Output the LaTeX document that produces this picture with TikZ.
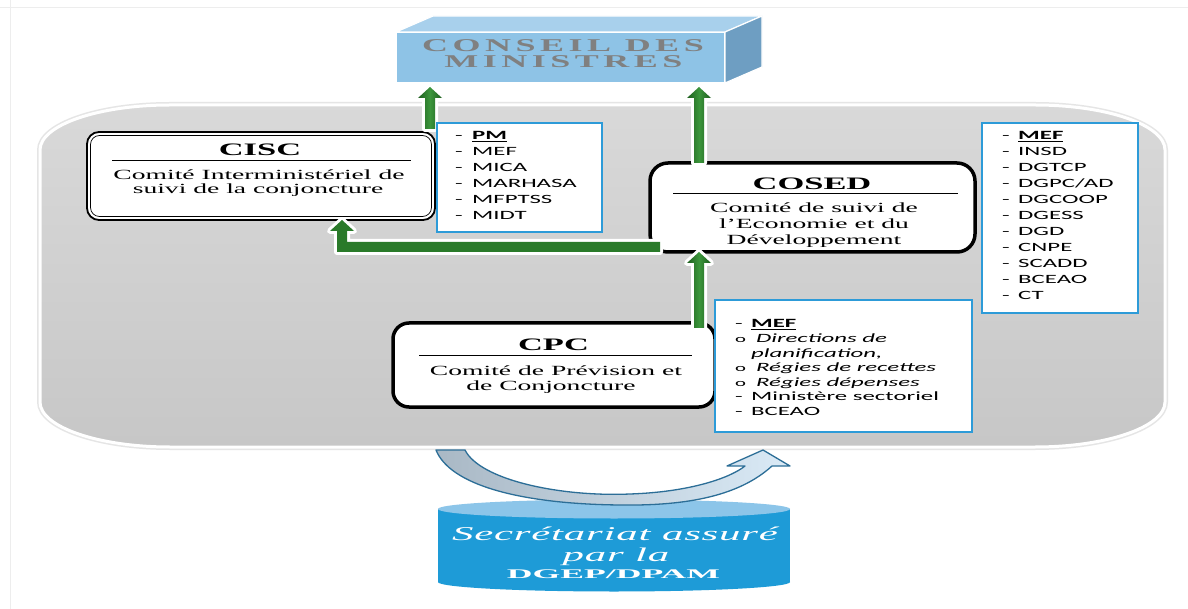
\documentclass[tikz,border=0pt]{standalone}
\usepackage{fontspec}
\usetikzlibrary{calc}
\newfontfamily\tnrfont[FakeStretch=1.97]{Liberation Serif}
\newfontfamily\lstfont[FakeStretch=1.97]{Carlito}
\newfontfamily\consfont[FakeStretch=2.0,LetterSpace=25]{Liberation Serif}
\newfontfamily\secfont[FakeStretch=2.2,LetterSpace=4]{Liberation Serif}
\newfontfamily\dgepfont[FakeStretch=2.7]{Liberation Serif}
\definecolor{gdark}{HTML}{1D5E1D}
\definecolor{glight}{HTML}{3C963C}
\definecolor{gmid}{HTML}{2A7A2A}
\definecolor{lblue}{HTML}{2D9BD8}
\definecolor{cfrontc}{HTML}{8EC3E6}
\definecolor{ctopc}{HTML}{A8D0EC}
\definecolor{csidec}{HTML}{6E9EC2}
\definecolor{cylbody}{HTML}{1E9BD7}
\definecolor{cyltop}{HTML}{8CC5E9}
\definecolor{carrowline}{HTML}{2C6E97}
\definecolor{carrowgrey}{HTML}{A9B8C5}
\definecolor{carrowblue}{HTML}{DAEAF6}
\definecolor{constext}{HTML}{808080}
\tikzset{
  garrow/.style={preaction={draw=white,line width=6pt,line join=round},left color=gdark,right color=gdark,middle color=glight},
  gearrow/.style={preaction={draw=white,line width=6pt,line join=round},fill=gmid},
  mainbox/.style={draw=black,fill=white,inner sep=0pt,outer sep=0pt},
  listbox/.style={draw=lblue,fill=white,line width=2pt,inner sep=0pt,outer sep=0pt},
  ttl/.style={anchor=base,font=\tnrfont\bfseries\fontsize{17.5}{20}\selectfont},
  tx/.style={anchor=base,font=\tnrfont\fontsize{14}{16}\selectfont},
  lst/.style={anchor=base west,inner sep=0pt,font=\lstfont\fontsize{12.6}{16}\selectfont},
  lstb/.style={anchor=base west,inner sep=0pt,font=\lstfont\fontsize{12.6}{14.6}\selectfont},
}
\newcommand\vgarrow[2]{%
  \path[garrow] let \p1=(#1), \p2=(#2) in
  (\x1-5pt,\y1) -- (\x1-5pt,\y2-11pt) -- (\x1-12pt,\y2-11pt) -- (\x1,\y2) --
  (\x1+12pt,\y2-11pt) -- (\x1+5pt,\y2-11pt) -- (\x1+5pt,\y1) -- cycle;}
\newcommand\smallo{{\fontsize{10.5}{10}\selectfont o}}
\begin{document}
\begin{tikzpicture}[x=1pt,y=-1pt]
\fill[white] (0,0) rectangle (1188,609);
\useasboundingbox (0,0) rectangle (1188,609);
\draw[black!7] (10,0) -- (10,609);
\draw[black!7] (0,7) -- (1188,7);
% grey panel
\draw[black!10,line width=6pt] (170,105) -- (1035,105) .. controls (1106.8,105) and (1165,125.1) .. (1165,150) -- (1165,402) .. controls (1165,426.9) and (1106.8,447) .. (1035,447) -- (170,447) .. controls (98.2,447) and (40,426.9) .. (40,402) -- (40,150) .. controls (40,125.1) and (98.2,105) .. (170,105) -- cycle;
\path[top color=black!15,bottom color=black!22,draw=white,line width=3pt] (170,105) -- (1035,105) .. controls (1106.8,105) and (1165,125.1) .. (1165,150) -- (1165,402) .. controls (1165,426.9) and (1106.8,447) .. (1035,447) -- (170,447) .. controls (98.2,447) and (40,426.9) .. (40,402) -- (40,150) .. controls (40,125.1) and (98.2,105) .. (170,105) -- cycle;
% conseil des ministres
\node[fill=cfrontc,draw=white,line width=1.2pt,minimum width=329pt,minimum height=51pt,inner sep=0pt,outer sep=0pt] (conseil) at (560.5,57.5) {};
\path[fill=ctopc,draw=white,line width=1.2pt,line join=round] (conseil.north west) -- ($(conseil.north west)+(37,-16)$) -- ($(conseil.north east)+(37,-16)$) -- (conseil.north east) -- cycle;
\path[fill=csidec,draw=white,line width=1.2pt,line join=round] (conseil.north east) -- ($(conseil.north east)+(37,-16)$) -- ($(conseil.south east)+(37,-16)$) -- (conseil.south east) -- cycle;
\node[anchor=base,text=constext,font=\consfont\bfseries\fontsize{18}{20}\selectfont] (cons1) at (563,52) {CONSEIL DES};
\node[anchor=base,text=constext,font=\consfont\bfseries\fontsize{18}{20}\selectfont] (cons2) at (563.5,68) {MINISTRES};
% CISC
\node[mainbox,line width=1.8pt,rounded corners=12pt,minimum width=348pt,minimum height=88pt] (cisc) at (261,176) {};
\draw[line width=0.7pt,rounded corners=9pt] ($(cisc.north west)+(3.5,3.5)$) rectangle ($(cisc.south east)-(3.5,3.5)$);
\node[ttl] (cisct) at (260,156) {CISC};
\draw[line width=0.8pt] (112,160.5) -- (411,160.5);
\node[tx] (cisc1) at (259,179.5) {Comité Interministériel de};
\node[tx] (cisc2) at (258,193.5) {suivi de la conjoncture};
% COSED
\node[mainbox,line width=3.5pt,rounded corners=18pt,minimum width=325pt,minimum height=89pt] (cosed) at (812.5,207.5) {};
\node[ttl] (cosedt) at (812,190) {COSED};
\draw[line width=0.8pt] (673,193.5) -- (958,193.5);
\node[tx] (cosed1) at (814,213) {Comité de suivi de};
\node[tx] (cosed2) at (814,229) {l’Economie et du};
\node[tx] (cosed3) at (814,245) {Développement};
% CPC
\node[mainbox,line width=3.5pt,rounded corners=16pt,minimum width=322pt,minimum height=84pt] (cpc) at (554,365) {};
\node[ttl] (cpct) at (553.5,350) {CPC};
\draw[line width=0.8pt] (419,355) -- (692,355);
\node[tx] (cpc1) at (556,375) {Comité de Prévision et};
\node[tx] (cpc2) at (551,390) {de Conjoncture};
% green arrows
\coordinate (a1b) at ($(cisc.north east)+(-5,-3)$);
\coordinate (a1t) at ($(a1b |- conseil.south)+(0,4)$);
\vgarrow{a1b}{a1t}
\coordinate (a2b) at ($(cosed.north west)+(49,0)$);
\coordinate (a2t) at ($(a2b |- conseil.south)+(0,4)$);
\vgarrow{a2b}{a2t}
\coordinate (a3b) at ($(cpc.north east)+(-16,5)$);
\coordinate (a3t) at (a3b |- cosed.south);
\vgarrow{a3b}{a3t}
\coordinate (e1) at ($(cosed.south west)+(10,-5)$);
\coordinate (e2) at ($(cisc.south east)+(-93,0)$);
\path[gearrow] let \p1=(e1), \p2=(e2) in
  (\x1,\y1+5pt) -- (\x2+5pt,\y1+5pt) -- (\x2+5pt,\y2-11pt) -- (\x2+12pt,\y2-11pt) -- (\x2,\y2) --
  (\x2-12pt,\y2-11pt) -- (\x2-5pt,\y2-11pt) -- (\x2-5pt,\y1-5pt) -- (\x1,\y1-5pt) -- cycle;
% lists
\node[listbox,minimum width=165pt,minimum height=109pt] (pmbox) at (519.5,177.5) {};
\node[lst] (pmlist) at (455,140) {\begin{tabular}[t]{@{}l@{\hspace{9.4pt}}l@{}}
-&\underline{\textbf{PM}}\\ -&MEF\\ -&MICA\\ -&MARHASA\\ -&MFPTSS\\ -&MIDT\end{tabular}};
\node[listbox,minimum width=156pt,minimum height=190pt] (mefbox) at (1060,218) {};
\node[lst] (meflist) at (1002,140) {\begin{tabular}[t]{@{}l@{\hspace{8.4pt}}l@{}}
-&\underline{\textbf{MEF}}\\ -&INSD\\ -&DGTCP\\ -&DGPC/AD\\ -&DGCOOP\\ -&DGESS\\ -&DGD\\ -&CNPE\\ -&SCADD\\ -&BCEAO\\ -&CT\end{tabular}};
\node[listbox,minimum width=257pt,minimum height=132pt] (cpcbox) at (843.5,366) {};
\node[lstb] (cpclist) at (735,328) {\begin{tabular}[t]{@{}l@{\hspace{5pt}}l@{}}
-&\underline{\textbf{MEF}}\\
\smallo&\hspace{5pt}\textit{Directions de}\\
&\textit{planification,}\\
\smallo&\hspace{5pt}\textit{Régies de recettes}\\
\smallo&\hspace{5pt}\textit{Régies dépenses}\\
-&Ministère sectoriel\\
-&BCEAO\end{tabular}};
% cylinder
\fill[cylbody] (438,509) rectangle (790,582);
\fill[cylbody] (614,582) ellipse [x radius=176pt,y radius=9.5pt];
\fill[cyltop] (614,509) ellipse [x radius=176pt,y radius=9.5pt];
\node[anchor=base,text=white,font=\secfont\itshape\fontsize{19.5}{22}\selectfont] (sec1) at (615,540) {Secrétariat assuré};
\node[anchor=base,text=white,font=\secfont\itshape\fontsize{19.5}{22}\selectfont] (sec2) at (616,561.5) {par la};
\node[anchor=base,text=white,font=\dgepfont\bfseries\fontsize{13.2}{14}\selectfont] (sec3) at (613.5,578) {DGEP/DPAM};
% curved arrow
\path[draw=carrowline,line width=1.3pt,line join=round,left color=carrowgrey,right color=carrowblue]
  (436,450) -- (465,450) .. controls (480,480) and (560,497) .. (630,494)
  .. controls (690,492) and (730,478) .. (745,466) -- (727,466) -- (763,450) -- (790,466) -- (772,466)
  .. controls (740,495) and (690,506) .. (620,505) .. controls (520,504) and (450,485) .. (436,450) -- cycle;
\end{tikzpicture}
\end{document}
